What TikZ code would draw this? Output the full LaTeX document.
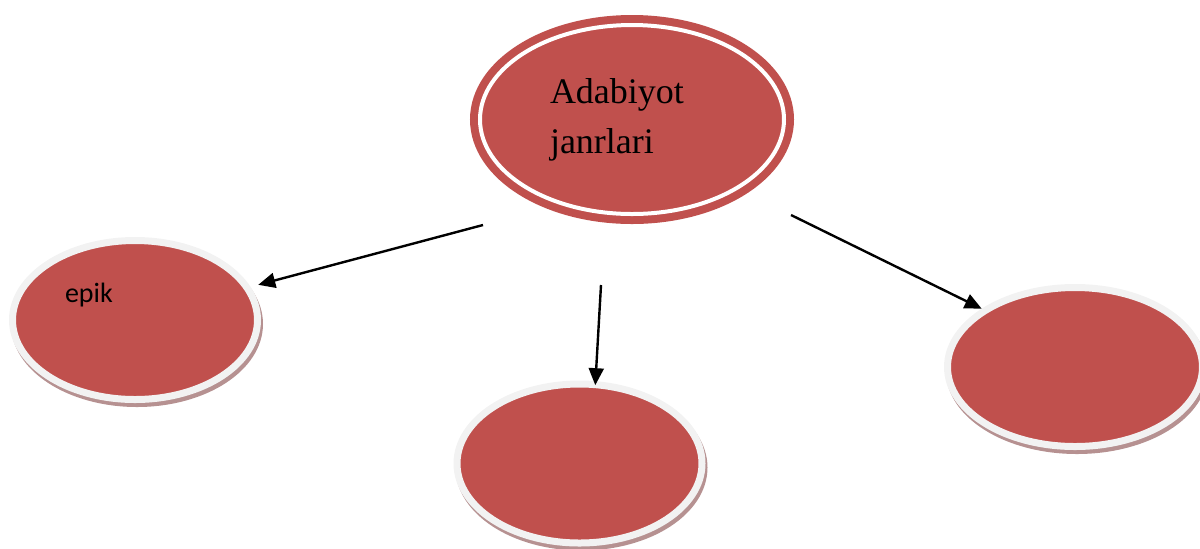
\documentclass[tikz,border=0pt]{standalone}
\usepackage{fontspec}
\setmainfont{Liberation Serif}
\newfontfamily\calibri{Carlito}
\usetikzlibrary{shapes,arrows.meta,shadows}
\definecolor{janr}{RGB}{192,80,77}
\definecolor{halo}{RGB}{242,242,242}
\definecolor{soya}{RGB}{182,145,145}

\begin{document}
\begin{tikzpicture}[x=0.5pt,y=-0.5pt,>={Triangle[length=8.5pt,width=7.5pt]},line width=1.2pt]
\tikzstyle{every node}=[inner sep=0pt,text=black]
\tikzstyle{root}=[ellipse,fill=janr,draw=janr,line width=4pt,double=white,double distance=2pt,minimum width=152pt,minimum height=94.5pt]
\tikzstyle{leaf}=[ellipse,fill=janr,draw=halo,line width=3.5pt,minimum width=122.5pt,minimum height=79.5pt,drop shadow={shadow xshift=1pt,shadow yshift=-2pt,fill=soya,draw=soya,opacity=1}]
\useasboundingbox (0,0) rectangle (1200,548);
\node[root,text width=82pt,align=left,font=\fontsize{18}{25}\selectfont] (lit) at (632,119.5) {Adabiyot\\janrlari};
\node[leaf,font=\calibri\fontsize{14}{17}\selectfont,text width=70pt,align=left,text height=10pt,text depth=28pt] (epik) at (135,320) {epik};
\node[leaf] (lirik) at (579.5,463.5) {};
\node[leaf,minimum width=127.5pt] (drama) at (1075,367) {};
\coordinate (fromL) at (483,225);
\coordinate (fromM) at (601,285);
\coordinate (fromR) at (791,215);
\draw[->,shorten >=4pt] (fromL) -- (epik.16);
\draw[->,shorten >=-2pt] (fromM) -- (lirik.79.5);
\draw[->] (fromR) -- (drama.148.6);
\end{tikzpicture}
\end{document}
